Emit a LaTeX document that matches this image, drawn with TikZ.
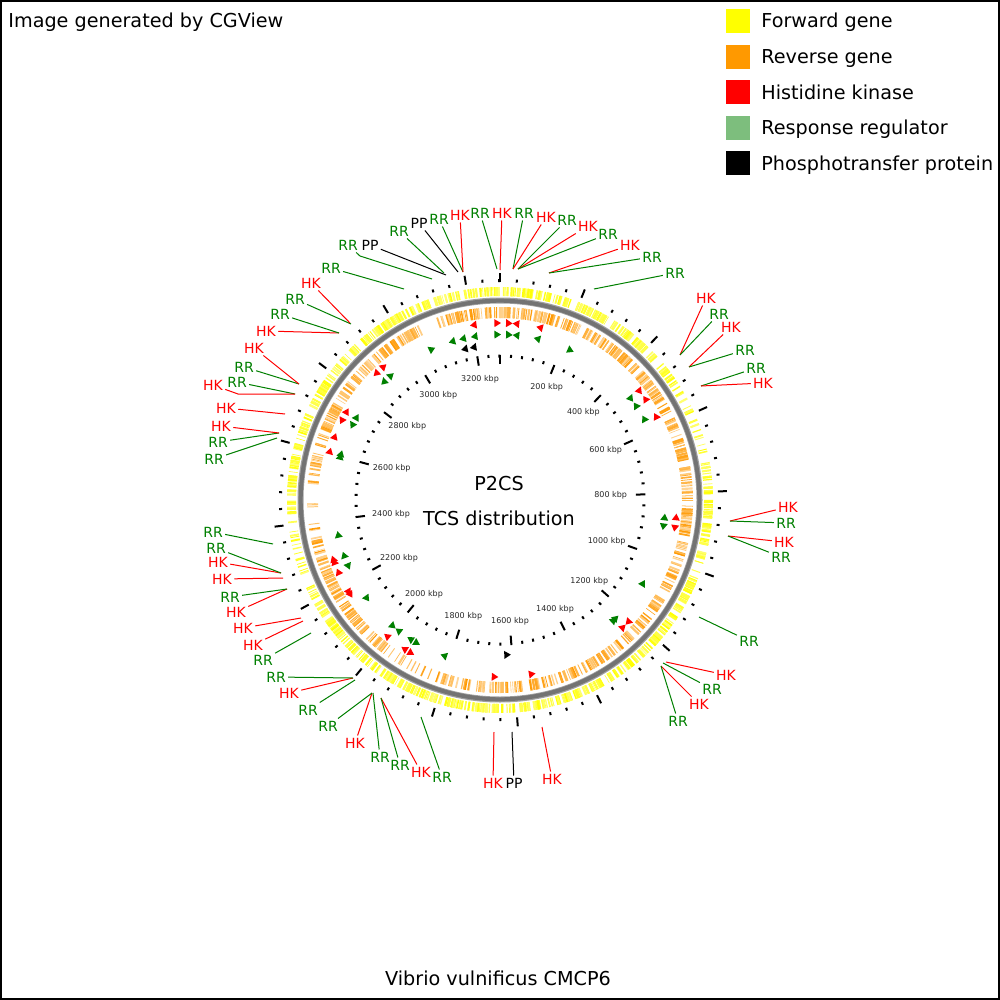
\documentclass[tikz,border=0pt]{standalone}
\usepackage{fontspec}
\setmainfont{DejaVu Sans}
\definecolor{fwd}{RGB}{255,255,0}
\definecolor{rev}{RGB}{255,153,0}
\definecolor{hk}{RGB}{255,0,0}
\definecolor{rr}{RGB}{0,128,0}
\definecolor{rrleg}{RGB}{125,190,125}
\definecolor{ringdark}{RGB}{115,115,115}
\definecolor{ringlight}{RGB}{160,160,160}
\definecolor{ticklab}{RGB}{40,40,40}
\newcommand\tcsarrow[5]{%
  \pgfmathsetmacro\tcsA{#1-90+(#5-3.3*(#4))*57.2958/#2}%
  \pgfmathsetmacro\tcsB{#1-90+(#5+3.3*(#4))*57.2958/#2}%
  \fill[#3] (\tcsA:{#2-4}) -- (\tcsA:{#2+4}) -- (\tcsB:{#2}) -- cycle;}
\newcommand\genering[7]{%
  \pgfmathsetseed{#6}%
  \foreach \gi in {1,...,#1}{%
    \pgfmathsetmacro\gth{360*rnd}%
    \pgfmathsetmacro\gw{0.25+0.9*rnd}%
    \pgfmathtruncatemacro\gs{#7+(100-#7)*rnd}%
    \pgfmathsetmacro\gu{rnd}%
    \pgfmathtruncatemacro\gk{(#5) ? (\gu<0.6) : 0}%
    \ifnum\gk=0 \draw[line width=\gw pt, #2!\gs!white] ({\gth-90}:#3) -- ({\gth-90}:#4);\fi
  }}
\tikzset{
  lab/.style={font=\fontsize{7}{8}\selectfont, inner sep=1pt},
  ticklabel/.style={font=\fontsize{4}{5}\selectfont, text=ticklab, inner sep=0pt},
  tickmark/.style={line width=1pt, black},
  bigtext/.style={font=\fontsize{9.6}{11}\selectfont, inner sep=0pt},
  conn/.style={line width=0.5pt}
}
\begin{document}
\begin{tikzpicture}[x=0.5pt,y=-0.5pt]
\useasboundingbox (0,0) rectangle (1000,1000);
\fill[white] (0,0) rectangle (1000,1000);
\draw[line width=0.8pt, black] (0.8,0.8) rectangle (999.2,999.2);

% headings
\node[bigtext, anchor=base west] (credit) at (8,28) {Image generated by CGView};
\node[bigtext, anchor=base] (organism) at (498,985) {Vibrio vulnificus CMCP6};
\node[bigtext, anchor=base] (title1) at (499,490) {P2CS};
\node[bigtext, anchor=base] (title2) at (499,525) {TCS distribution};

% legend
\foreach \n/\col/\yy/\txt in {1/fwd/21/Forward gene, 2/rev/57/Reverse gene, 3/hk/92.5/Histidine kinase, 4/rrleg/128/Response regulator, 5/black/163.5/Phosphotransfer protein}{
  \node[fill=\col, minimum size=12pt, inner sep=0pt] (S\n) at (738,\yy) {};
  \node[bigtext, anchor=base west] (T\n) at (761,\yy+7) {\txt};
}

\begin{scope}[shift={(500,500)}]
  % gene rings
  \genering{900}{fwd}{204}{213}{(\gth>55 && \gth<80) || (\gth>250 && \gth<266)}{31}{55}
  \genering{750}{rev}{182}{193}{(\gth>186 && \gth<216) || (\gth>252 && \gth<292)}{77}{40}
  % backbone
  \draw[line width=3pt, ringlight] (0,0) circle[radius=199.5];
  \draw[line width=2pt, ringdark] (0,0) circle[radius=199.3];
  % ticks
  \foreach \k in {0,...,82}{
    \pgfmathsetmacro\ang{\k*4.387641-90}
    \pgfmathtruncatemacro\md{mod(\k,5)}
    \ifnum\md=0
      \draw[tickmark] (\ang:218) -- (\ang:227);
      \draw[tickmark] (\ang:136) -- (\ang:145.5);
    \else
      \draw[tickmark] (\ang:218) -- (\ang:221);
      \draw[tickmark] (\ang:142.5) -- (\ang:145.5);
    \fi
  }
  % TCS features: angle / radius / colour / direction / offset
  \foreach \fa/\fr/\fc/\fd/\fo in {
    -44.5/177/hk/-1/0, -41/177/hk/1/0, -8.7/177/hk/-1/0, -0.75/177/hk/1/0,
    4.1/177/hk/1/-3.3, 4.1/177/hk/-1/3.3, 12.9/177/hk/-1/0, 52.2/177/hk/1/0,
    55.1/177/hk/-1/0, 61.7/177/hk/-1/0, 95.5/177/hk/-1/0, 99.2/177/hk/1/0,
    134.8/177/hk/1/-3.3, 134.8/177/hk/-1/3.3, 169.5/177/hk/-1/0, 181.6/177/hk/-1/0,
    210.1/177/hk/-1/0, 212.8/177/hk/1/0, 219.8/177/hk/1/0,
    238.1/177/hk/-1/-1.5, 238.1/177/hk/-1/1.5, 246.1/177/hk/1/0,
    250.1/177/hk/1/-1.5, 250.1/177/hk/1/1.5, 286.1/177/hk/1/0,
    291.1/177/hk/1/0, 296.5/177/hk/-1/0, 300.1/177/hk/1/0,
    -44.7/165.5/rr/-1/0, -41.1/165.5/rr/1/0, -24.2/165.5/rr/1/0,
    -16.9/165.5/rr/-1/0, -13.1/165.5/rr/-1/0, -9/165.5/rr/-1/0,
    -0.8/165.5/rr/1/0, 4.4/165.5/rr/1/-3.3, 4.4/165.5/rr/-1/3.3,
    12.9/165.5/rr/-1/0, 25.3/165.5/rr/1/0, 52.4/165.5/rr/1/0,
    55.1/165.5/rr/-1/0, 60.5/165.5/rr/-1/0, 95.9/165.5/rr/-1/0,
    99.3/165.5/rr/1/0, 120.1/165.5/rr/-1/0, 136/165.5/rr/-1/-1.5,
    136/165.5/rr/-1/1.5, 199.9/165.5/rr/1/0, 210.1/165.5/rr/-1/0,
    212.9/165.5/rr/1/0, 219.1/165.5/rr/1/-3.3, 219.1/165.5/rr/-1/3.3,
    233.4/165.5/rr/-1/0, 246.3/165.5/rr/-1/0, 250.6/165.5/rr/1/0,
    258/165.5/rr/1/0, 285.8/165.5/rr/1/-1.5, 285.8/165.5/rr/1/1.5,
    296.7/165.5/rr/-1/0, 300.1/165.5/rr/1/0,
    -13.3/155/black/-1/0, -10/155/black/-1/0, 177.2/155/black/-1/0}{
    \tcsarrow{\fa}{\fr}{\fc}{\fd}{\fo}
  }
\end{scope}

% scale labels
\foreach \n/\lx/\ly/\txt in {a/480/379/3200 kbp, b/546.7/387.3/200 kbp, c/438.3/395/3000 kbp,
  d/583.3/412/400 kbp, e/407.3/426/2800 kbp, f/605.7/450/600 kbp, g/391.7/468.3/2600 kbp,
  h/610.7/495/800 kbp, i/391/514.3/2400 kbp, j/606.7/541/1000 kbp, k/399/558.3/2200 kbp,
  l/589.3/581/1200 kbp, m/424/594.3/2000 kbp, n/555/609/1400 kbp, o/463.3/616/1800 kbp,
  p/510/621/1600 kbp}{
  \node[ticklabel] (K\n) at (\lx,\ly) {\txt};
}

% feature labels with their connectors
\foreach \n/\lab/\col/\lx/\ly/\px/\py in {
  1/RR/rr/331/268/404/289, 3/PP/black/370/245/446/275, 4/RR/rr/399/231/444/273,
  5/PP/black/419/223/458/272, 6/RR/rr/439/219/463/272, 7/HK/hk/460/215/463/272,
  8/RR/rr/480/213/497/269, 9/HK/hk/502/213/500/270, 10/RR/rr/524/213/513/269,
  11/HK/hk/546/217/513/269, 12/RR/rr/567/220/518/269, 13/HK/hk/588/226/518/269,
  14/RR/rr/608/234/518/269, 15/HK/hk/630/245/549/273, 16/RR/rr/652/257/549/273,
  17/RR/rr/675/273/594/289, 18/HK/hk/706/298/680/355, 19/RR/rr/719/314/680/355,
  20/HK/hk/731/327/689/367, 21/RR/rr/745/350/689/367, 22/RR/rr/756/368/701/386,
  23/HK/hk/763/383/701/386, 24/HK/hk/788/507/730/521, 25/RR/rr/786/523/730/521,
  26/HK/hk/784/542/728/536, 27/RR/rr/781/557/728/536, 28/RR/rr/749/641/699/617,
  29/HK/hk/726/675/666/662, 30/RR/rr/712/689/663/663, 31/HK/hk/699/704/661/666,
  32/RR/rr/678/721/661/666, 33/HK/hk/493/783/494/732, 34/PP/black/514/783/512/732,
  35/HK/hk/552/779/542/727, 36/RR/rr/442/777/421/717, 37/HK/hk/421/772/381/698,
  38/RR/rr/400/765/381/698, 39/RR/rr/380/757/373/693, 40/HK/hk/355/743/372/693,
  41/RR/rr/328/726/372/693, 42/RR/rr/308/710/355/680, 43/HK/hk/289/693/353/678,
  44/RR/rr/276/677/353/678, 45/RR/rr/263/660/311/633, 46/HK/hk/253/645/303/621,
  47/HK/hk/243/628/301/618, 48/HK/hk/236/612/287/589, 49/RR/rr/230/597/287/589,
  50/HK/hk/222/579/283/578, 51/HK/hk/218/562/281/573, 52/RR/rr/216/548/281/573,
  53/RR/rr/213/532/273/544, 54/RR/rr/214/459/277/438, 55/RR/rr/218/442/279/433,
  56/HK/hk/221/426/279/433, 57/HK/hk/226/408/285/414, 59/RR/rr/237/382/295/394,
  60/RR/rr/244/367/299/384, 61/HK/hk/254/348/299/384, 62/HK/hk/266/331/339/333,
  63/RR/rr/280/314/339/333, 64/RR/rr/295/299/351/324, 65/HK/hk/311/283/350/323}{
  \node[lab, text=\col] (L\n) at (\lx,\ly) {\lab};
  \coordinate (P\n) at (\px,\py);
  \draw[conn, \col] (P\n) -- (L\n);
}
% two connectors with a bend
\node[lab, text=rr] (L2) at (348,245) {RR};
\coordinate (P2) at (432,279);
\coordinate (B2) at (360,256);
\draw[conn, rr] (P2) -- (B2) -- (L2);
\node[lab, text=hk] (L58) at (213,385) {HK};
\coordinate (P58) at (295,394);
\coordinate (B58) at (238,394);
\draw[conn, hk] (P58) -- (B58) -- (L58);
\end{tikzpicture}
\end{document}
